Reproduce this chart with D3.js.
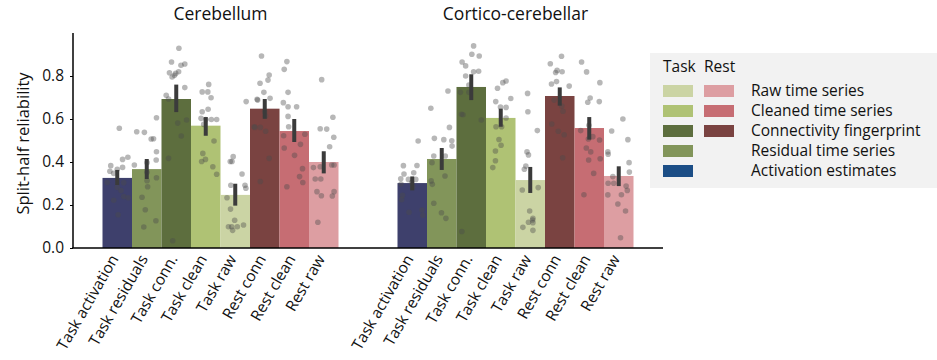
<!DOCTYPE html>
<html>
<head>
<meta charset="utf-8">
<script src="https://cdn.jsdelivr.net/npm/d3@7"></script>
<style>
body { margin: 0; background: #fff; }
text { font-family: "Open Sans", "Noto Sans", sans-serif; fill: #111; }
</style>
</head>
<body>
<svg></svg>
<script>
// 类别与面板
var panels = ["Cerebellum", "Cortico-cerebellar"]
var categories = ["Task activation", "Task residuals", "Task conn.", "Task clean", "Task raw", "Rest conn", "Rest clean", "Rest raw"]
var barColors = ["#3e406c", "#82955a", "#5d6e3e", "#afc274", "#cbd4a4", "#7a4341", "#c66d73", "#dd9ea2"]
var yTicks = [0, 0.2, 0.4, 0.6, 0.8]

// 均值与置信区间
var meanCerebellum = [0.326, 0.367, 0.693, 0.569, 0.247, 0.648, 0.544, 0.400]
var ciLowCerebellum = [0.293, 0.321, 0.632, 0.522, 0.197, 0.601, 0.493, 0.347]
var ciHighCerebellum = [0.363, 0.414, 0.760, 0.609, 0.299, 0.693, 0.600, 0.450]
var meanCortico = [0.302, 0.414, 0.749, 0.605, 0.316, 0.707, 0.558, 0.335]
var ciLowCortico = [0.268, 0.363, 0.688, 0.564, 0.256, 0.662, 0.504, 0.288]
var ciHighCortico = [0.333, 0.465, 0.808, 0.648, 0.377, 0.747, 0.609, 0.380]

// 每个被试的值
var subjCerebellum = [
  [0.557, 0.422, 0.412, 0.383, 0.375, 0.357, 0.366, 0.347, 0.305, 0.282, 0.304, 0.267, 0.239, 0.234, 0.222, 0.155],
  [0.541, 0.538, 0.606, 0.507, 0.508, 0.448, 0.409, 0.397, 0.386, 0.352, 0.327, 0.313, 0.285, 0.236, 0.178, 0.127, 0.098],
  [0.929, 0.865, 0.856, 0.850, 0.820, 0.812, 0.815, 0.795, 0.803, 0.746, 0.710, 0.693, 0.595, 0.581, 0.521, 0.417, 0.034],
  [0.761, 0.726, 0.726, 0.699, 0.645, 0.634, 0.603, 0.598, 0.598, 0.598, 0.575, 0.498, 0.440, 0.412, 0.402, 0.378, 0.343],
  [0.681, 0.425, 0.402, 0.402, 0.344, 0.292, 0.292, 0.278, 0.234, 0.181, 0.129, 0.099, 0.099, 0.107, 0.099, 0.082],
  [0.893, 0.805, 0.781, 0.766, 0.724, 0.692, 0.688, 0.696, 0.634, 0.614, 0.564, 0.561, 0.561, 0.543, 0.417, 0.309],
  [0.867, 0.831, 0.724, 0.676, 0.657, 0.657, 0.612, 0.564, 0.522, 0.529, 0.482, 0.465, 0.431, 0.369, 0.332, 0.305, 0.285],
  [0.783, 0.608, 0.555, 0.553, 0.515, 0.471, 0.374, 0.378, 0.386, 0.386, 0.321, 0.321, 0.262, 0.262, 0.243, 0.242, 0.120]
]
var jitterCerebellum = [
  [0.07, 0.36, 0.18, -0.22, 0.18, -0.25, 0.0, -0.12, -0.34, 0.0, 0.22, 0.13, 0.22, 0.37, -0.12, 0.03],
  [-0.34, -0.08, 0.33, 0.15, 0.23, 0.33, 0.32, 0.01, -0.42, 0.01, 0.33, 0.01, 0.03, -0.16, -0.05, 0.31, -0.1],
  [0.09, -0.16, 0.29, 0.16, 0.08, -0.02, -0.23, -0.14, -0.06, 0.29, -0.34, -0.26, 0.35, 0.05, 0.17, -0.26, -0.12],
  [0.1, -0.12, 0.07, 0.18, 0.08, -0.12, -0.16, 0.0, 0.19, 0.37, -0.07, 0.28, -0.1, -0.01, -0.14, 0.24, 0.37],
  [0.37, -0.07, -0.17, -0.11, 0.23, -0.15, 0.33, 0.36, -0.28, -0.16, -0.02, -0.23, -0.12, 0.28, 0.07, -0.09],
  [-0.11, 0.15, 0.11, -0.16, -0.03, -0.26, -0.24, 0.18, 0.0, 0.03, -0.36, -0.33, -0.15, 0.03, 0.15, -0.15],
  [-0.25, -0.34, -0.21, -0.37, -0.21, 0.08, -0.21, -0.19, -0.36, 0.36, 0.21, -0.34, 0.01, 0.28, 0.18, 0.29, -0.25],
  [-0.07, 0.31, -0.12, 0.1, 0.34, 0.2, -0.35, -0.12, 0.27, 0.35, -0.29, -0.1, 0.35, -0.23, -0.08, 0.29, -0.2]
]
var subjCortico = [
  [0.383, 0.384, 0.344, 0.350, 0.322, 0.319, 0.319, 0.304, 0.298, 0.285, 0.245, 0.225, 0.166, 0.177, 0.152, 0.498],
  [0.730, 0.650, 0.561, 0.510, 0.504, 0.499, 0.474, 0.428, 0.428, 0.397, 0.335, 0.312, 0.296, 0.208, 0.164, 0.138],
  [0.940, 0.901, 0.893, 0.865, 0.847, 0.820, 0.822, 0.800, 0.758, 0.724, 0.724, 0.622, 0.620, 0.595, 0.077],
  [0.777, 0.769, 0.743, 0.695, 0.681, 0.654, 0.656, 0.605, 0.564, 0.564, 0.505, 0.478, 0.451, 0.406, 0.374],
  [0.719, 0.634, 0.546, 0.447, 0.433, 0.381, 0.366, 0.281, 0.270, 0.172, 0.138, 0.120, 0.118, 0.130, 0.096, 0.082],
  [0.892, 0.857, 0.826, 0.816, 0.820, 0.763, 0.774, 0.753, 0.688, 0.660, 0.636, 0.577, 0.543, 0.527, 0.420],
  [0.865, 0.819, 0.769, 0.698, 0.678, 0.681, 0.571, 0.546, 0.518, 0.507, 0.502, 0.465, 0.447, 0.415, 0.409, 0.347, 0.248],
  [0.600, 0.544, 0.504, 0.447, 0.436, 0.397, 0.353, 0.332, 0.301, 0.301, 0.288, 0.268, 0.247, 0.248, 0.172, 0.205, 0.048]
]
var jitterCortico = [
  [-0.3, 0.16, -0.28, 0.05, -0.39, -0.13, 0.12, -0.02, -0.38, 0.02, -0.33, -0.36, -0.11, 0.33, 0.36, 0.2],
  [0.21, -0.37, 0.26, -0.25, 0.07, 0.34, 0.35, -0.27, 0.12, -0.33, 0.11, -0.36, -0.32, -0.27, -0.01, 0.14],
  [0.08, 0.02, 0.27, -0.31, -0.19, 0.08, 0.25, -0.19, -0.08, -0.37, -0.08, -0.33, -0.28, 0.34, -0.32],
  [0.18, 0.07, -0.11, 0.34, -0.17, 0.18, -0.01, 0.18, -0.16, 0.03, -0.06, 0.01, -0.18, -0.18, -0.27],
  [-0.09, -0.08, 0.24, -0.11, -0.06, -0.15, -0.2, 0.27, -0.27, -0.02, 0.09, -0.06, 0.09, 0.08, -0.25, 0.09],
  [0.06, -0.32, -0.09, -0.14, 0.08, -0.28, -0.11, 0.32, -0.19, 0.07, 0.11, -0.27, -0.05, 0.15, 0.1],
  [-0.26, -0.09, 0.36, 0.03, -0.05, 0.34, -0.01, -0.29, 0.12, -0.03, 0.35, -0.1, 0.05, 0.37, -0.02, 0.15, -0.18],
  [0.14, -0.24, 0.31, -0.37, -0.36, 0.35, 0.36, -0.2, -0.36, -0.17, 0.25, 0.29, -0.37, 0.09, 0.23, -0.03, 0.06]
]

// 图例
var legendLabels = ["Raw time series", "Cleaned time series", "Connectivity fingerprint", "Residual time series", "Activation estimates"]
var legendTask = ["#cbd4a4", "#afc274", "#5d6e3e", "#82955a", "#1c4e86"]
var legendRest = ["#dd9ea2", "#c66d73", "#7a4341", null, null]

var panelData = [
  { name: panels[0], mean: meanCerebellum, lo: ciLowCerebellum, hi: ciHighCerebellum, subj: subjCerebellum, jit: jitterCerebellum },
  { name: panels[1], mean: meanCortico, lo: ciLowCortico, hi: ciHighCortico, subj: subjCortico, jit: jitterCortico }
]

var svg = d3.select('svg')
  .attr('width', 937)
  .attr('height', 360)

// 比例尺
var xPanel = d3.scaleBand()
  .domain(panels)
  .range([73, 663])
  .paddingInner(0.2)
  .paddingOuter(0.1)
var xCat = d3.scaleBand()
  .domain(categories)
  .range([0, xPanel.bandwidth()])
var y = d3.scaleLinear()
  .domain([0, 1])
  .range([248, 33])
var color = d3.scaleOrdinal().domain(categories).range(barColors)

panelData.forEach(function (p) {
  var g = svg.append('g').attr('transform', 'translate(' + xPanel(p.name) + ',0)')

  // 柱子
  g.selectAll('rect.bar')
    .data(categories)
    .enter()
    .append('rect')
    .attr('class', 'bar')
    .attr('x', d => xCat(d))
    .attr('width', xCat.bandwidth())
    .attr('y', (d, i) => y(p.mean[i]))
    .attr('height', (d, i) => y(0) - y(p.mean[i]))
    .attr('fill', d => color(d))

  // 散点
  var pts = []
  categories.forEach(function (c, i) {
    p.subj[i].forEach(function (v, k) {
      pts.push({ cat: c, v: v, j: p.jit[i][k] })
    })
  })
  g.selectAll('circle')
    .data(pts)
    .enter()
    .append('circle')
    .attr('cx', d => xCat(d.cat) + xCat.bandwidth() * (0.5 + d.j))
    .attr('cy', d => y(d.v))
    .attr('r', 2.8)
    .attr('fill', '#4a4a4a')
    .attr('fill-opacity', 0.4)

  // 误差线
  g.selectAll('line.err')
    .data(categories)
    .enter()
    .append('line')
    .attr('class', 'err')
    .attr('x1', d => xCat(d) + xCat.bandwidth() / 2)
    .attr('x2', d => xCat(d) + xCat.bandwidth() / 2)
    .attr('y1', (d, i) => y(p.lo[i]))
    .attr('y2', (d, i) => y(p.hi[i]))
    .attr('stroke', '#3b3b3b')
    .attr('stroke-width', 4)

  // 标题
  g.append('text')
    .attr('x', xPanel.bandwidth() / 2)
    .attr('y', 20)
    .attr('text-anchor', 'middle')
    .style('font-size', '17.5px')
    .text(p.name)

  // x轴标签
  var ax = g.append('g')
    .attr('transform', 'translate(0,' + y(0) + ')')
    .call(d3.axisBottom(xCat).tickSize(0))
  ax.select('.domain').remove()
  ax.selectAll('text')
    .attr('transform', 'translate(-3,8) rotate(-60)')
    .attr('text-anchor', 'end')
    .attr('dx', 0)
    .attr('dy', '0.35em')
    .attr('y', 0)
    .style('font-size', '15.5px')
    .style('font-family', '"Open Sans", sans-serif')
    .attr('fill', '#111')
})

// y轴
var yAx = svg.append('g')
  .attr('transform', 'translate(73,0)')
  .call(d3.axisLeft(y).tickValues(yTicks).tickFormat(d3.format('.1f')).tickSize(3))
yAx.select('.domain').remove()
yAx.selectAll('text')
  .style('font-size', '15.5px')
  .style('font-family', '"Open Sans", sans-serif')
  .attr('fill', '#111')
  .attr('x', -9)

// 坐标轴线
svg.append('line')
  .attr('x1', 73).attr('x2', 73)
  .attr('y1', y(1)).attr('y2', y(0))
  .attr('stroke', '#000').attr('stroke-width', 1.5)
svg.append('line')
  .attr('x1', 72.25).attr('x2', 663)
  .attr('y1', y(0)).attr('y2', y(0))
  .attr('stroke', '#000').attr('stroke-width', 1.5)

svg.append('text')
  .attr('transform', 'translate(29,' + (y(0.5) + 3) + ') rotate(-90)')
  .attr('text-anchor', 'middle')
  .style('font-size', '16.5px')
  .text('Split-half reliability')

// 图例
var lg = svg.append('g')
lg.append('rect')
  .attr('x', 650).attr('y', 53)
  .attr('width', 287).attr('height', 135)
  .attr('fill', '#f2f2f2')
lg.append('text').attr('x', 663).attr('y', 72).style('font-size', '15.5px').text('Task')
lg.append('text').attr('x', 704).attr('y', 72).style('font-size', '15.5px').text('Rest')
legendLabels.forEach(function (lab, i) {
  var cy = 91 + i * 20
  lg.append('rect')
    .attr('x', 663).attr('y', cy - 6)
    .attr('width', 30).attr('height', 12)
    .attr('fill', legendTask[i])
  if (legendRest[i]) {
    lg.append('rect')
      .attr('x', 704).attr('y', cy - 6)
      .attr('width', 30).attr('height', 12)
      .attr('fill', legendRest[i])
  }
  lg.append('text')
    .attr('x', 751).attr('y', cy)
    .attr('dy', '0.35em')
    .style('font-size', '15.5px')
    .text(lab)
})
</script>
</body>
</html>
